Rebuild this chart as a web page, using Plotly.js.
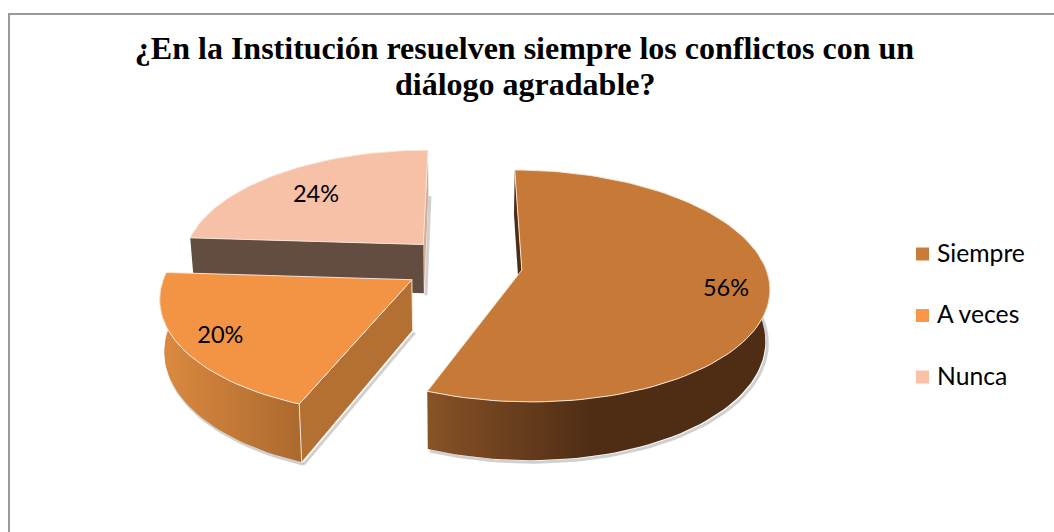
<!DOCTYPE html>
<html><head><meta charset="utf-8">
<script src="https://cdn.plot.ly/plotly-3.0.1.min.js"></script>
<style>html,body{margin:0;padding:0;background:#fff}#c{width:1054px;height:532px}</style>
</head><body><div id="c"></div>
<script>
const categories = ["Siempre", "A veces", "Nunca"];
const values = [56, 20, 24];
const topColors = ["#c77a37", "#f39444", "#f6c1a6"];
const legendColors = ["#c97c3a", "#f9974a", "#fac1a8"];
const labelRadius = [0.827, 0.84, 0.707];
const labelTurn = [0, 0, -1.4];
const widthScale = [0.98, 0.985, 0.975];
const liftBack = [0, 0, 0.012];
const titleLines = ["¿En la Institución resuelven siempre los conflictos con un", "diálogo agradable?"];

// projection of the tilted pie
const CX = 463, CY = 265, R = 248, TILT = 112.4, K = 0.136, H = 50, EXPLODE = 0.24, BASE_SHRINK = 0.985;
const EDGE = "rgba(246,232,218,0.95)";
function proj(U, V, h) {
  const s = 1 / (1 + K * V);
  return [CX + R * U * s * (h ? BASE_SHRINK : 1), CY - TILT * V * s + (h ? H * s : 0)];
}
const rad = d => d * Math.PI / 180;
const total = values.reduce((a, b) => a + b, 0);
let acc = 0;
const slices = values.map((v, i) => {
  const a0 = acc / total * 360; acc += v; const a1 = acc / total * 360;
  const m = rad((a0 + a1) / 2);
  return {i, a0, a1, ou: EXPLODE * Math.sin(m), ov: EXPLODE * Math.cos(m) + liftBack[i], m};
});
const pt = (s, deg, h, r = 1) => proj(s.ou + r * widthScale[s.i] * Math.sin(rad(deg)), s.ov + r * Math.cos(rad(deg)), h);
function arc(s, from, to, h) {
  const n = Math.max(2, Math.ceil(Math.abs(to - from) / 2)), out = [];
  for (let j = 0; j <= n; j++) out.push(pt(s, from + (to - from) * j / n, h));
  return out;
}
const traces = [];
function poly(points, opts) {
  traces.push(Object.assign({
    x: points.map(p => p[0]), y: points.map(p => p[1]),
    type: "scatter", mode: "lines", fill: "toself", hoverinfo: "skip", showlegend: false,
    line: {width: 0}
  }, opts));
}
function shadow(points) {
  const sx = points.map(p => p[0] + 2), sy = points.map(p => p[1] + 2);
  traces.push({x: sx, y: sy, type: "scatter", mode: "lines", hoverinfo: "skip", showlegend: false,
    line: {color: "rgba(120,120,120,0.35)", width: 3}});
}
function outerSide(s, from, to, grad) {
  const t = arc(s, from, to, false), b = arc(s, from, to, true);
  shadow(b);
  poly(t.concat(b.slice().reverse()), {fillcolor: grad.solid, fillgradient: grad.g, line: {width: 0, color: grad.solid}});
}
function radial(s, deg, color, edge) {
  const a = pt(s, 0, false, 0), ah = pt(s, 0, true, 0), t = pt(s, deg, false), th = pt(s, deg, true);
  poly([a, t, th, ah, a], {fillcolor: color, line: {width: edge ? 1 : 0, color: EDGE}});
}
function topFace(s) {
  const a = pt(s, 0, false, 0);
  poly([a].concat(arc(s, s.a0, s.a1, false), [a]), {fillcolor: topColors[s.i], line: {width: 1, color: EDGE}});
}
const grad = (c0, c1, a, b) => ({solid: c0, g: {type: "horizontal", start: a, stop: b,
  colorscale: [[0, c0], [1, c1]]}});

// back slice: Nunca
const N = slices[2];
shadow([pt(N, 360, false).map((v, i) => v + (i ? 44 : 0)), pt(N, 0, true, 0)]);
radial(N, 360, "#d8ad96", false);
radial(N, N.a0, "#624d40", false);
topFace(N);
// Siempre
const S = slices[0];
radial(S, 0, "#4f2d15", false);
outerSide(S, 85, S.a1, grad("#875226", "#4f2d15", 429, 590));
topFace(S);
// A veces
const A = slices[1];
shadow([pt(A, 0, true, 0), pt(A, A.a0, true)]);
outerSide(A, A.a0, A.a1, grad("#dc8a40", "#ad6a2f", 160, 297));
radial(A, A.a0, "#b46f33", true);
topFace(A);

// data labels
const lab = slices.map(s => pt(s, (s.a0 + s.a1) / 2 + labelTurn[s.i], false, labelRadius[s.i]));
traces.push({x: lab.map(p => p[0]), y: lab.map(p => p[1] + 2), type: "scatter", mode: "text",
  text: values.map(v => v + "%"), textposition: "middle center", hoverinfo: "skip", showlegend: false,
  textfont: {family: "Lato, Carlito, sans-serif", size: 23.5, color: "#000"}});

// legend
const LX = 922.5, LTX = 937, LY = [254, 315.5, 377];
traces.push({x: categories.map(() => LX), y: LY, type: "scatter", mode: "markers", hoverinfo: "skip", showlegend: false,
  marker: {symbol: "square", size: 13, color: legendColors, line: {width: 0}}});
traces.push({x: categories.map(() => LTX), y: LY.map(v => v + 1.5), type: "scatter", mode: "text",
  text: categories, textposition: "middle right", hoverinfo: "skip", showlegend: false,
  textfont: {family: "Lato, Carlito, sans-serif", size: 24.7, color: "#000"}});

const titleFont = {family: "Liberation Serif, serif", size: 32, color: "#000", weight: 700};
const layout = {
  width: 1054, height: 532, margin: {l: 0, r: 0, t: 0, b: 0},
  paper_bgcolor: "#fff", plot_bgcolor: "#fff", showlegend: false,
  title: {text: titleLines[0], x: 524.5 / 1054, xanchor: "center", y: 1 - 48 / 532, yanchor: "middle", font: titleFont},
  annotations: [{text: titleLines[1], xref: "x", yref: "y", x: 524.5, y: 83.5, xanchor: "center", yanchor: "middle",
    showarrow: false, font: titleFont}],
  xaxis: {range: [0, 1054], visible: false, fixedrange: true},
  yaxis: {range: [532, 0], visible: false, fixedrange: true},
  shapes: [{type: "rect", xref: "x", yref: "y", x0: 9, y0: 14, x1: 1070, y1: 560,
    line: {color: "#9a9a9a", width: 2}, fillcolor: "rgba(0,0,0,0)", layer: "below"}]
};
Plotly.newPlot("c", traces, layout, {displayModeBar: false, staticPlot: true});
</script></body></html>
